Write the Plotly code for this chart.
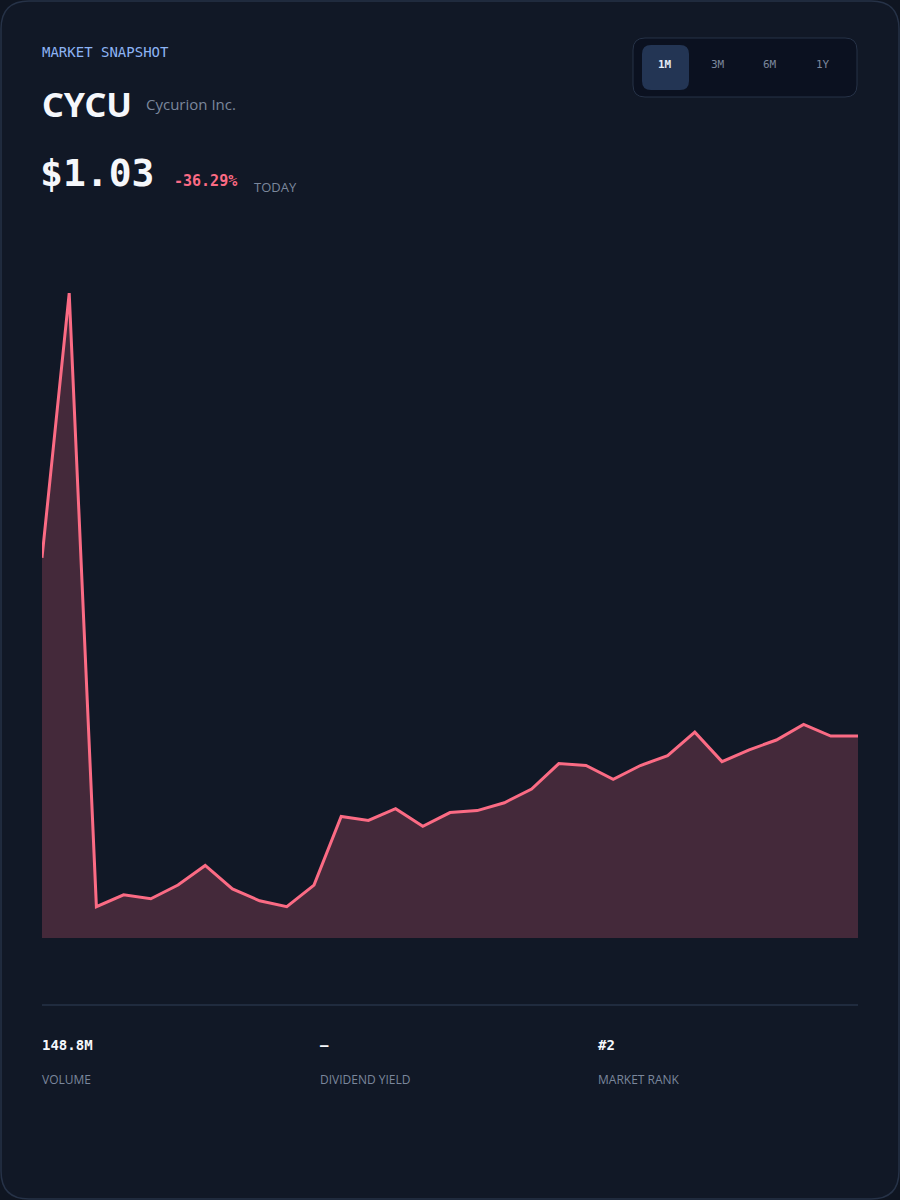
import plotly.graph_objects as go

days = list(range(1, 32))
prices = [1.94, 3.29, 0.16, 0.22, 0.20, 0.27, 0.37, 0.25, 0.19, 0.16, 0.27, 0.62, 0.60, 0.66,
          0.57, 0.64, 0.65, 0.69, 0.76, 0.89, 0.88, 0.81, 0.88, 0.93, 1.05, 0.90, 0.96, 1.01,
          1.09, 1.03, 1.03]
ranges = ["1M", "3M", "6M", "1Y"]
stats_values = ["148.8M", "–", "#2"]
stats_labels = ["VOLUME", "DIVIDEND YIELD", "MARKET RANK"]

MONO = "DejaVu Sans Mono"
SANS = "Open Sans"
W, H = 900, 1200
L, R, T, B = 42, 42, 230, 262
PW, PH = W - L - R, H - T - B

def X(v):
    return (v - L) / PW

def Y(v):
    return (H - B - v) / PH

fig = go.Figure(go.Scatter(
    x=days, y=prices, mode="lines", fill="tozeroy",
    line=dict(color="#fb6b84", width=3), fillcolor="rgba(251,107,132,0.22)",
    hoverinfo="skip"))

def rr(x0, y0, x1, y1, r):
    return (f"M{X(x0+r)},{Y(y0)} L{X(x1-r)},{Y(y0)} Q{X(x1)},{Y(y0)} {X(x1)},{Y(y0+r)} "
            f"L{X(x1)},{Y(y1-r)} Q{X(x1)},{Y(y1)} {X(x1-r)},{Y(y1)} L{X(x0+r)},{Y(y1)} "
            f"Q{X(x0)},{Y(y1)} {X(x0)},{Y(y1-r)} L{X(x0)},{Y(y0+r)} Q{X(x0)},{Y(y0)} {X(x0+r)},{Y(y0)} Z")

shapes = [
    dict(type="path", xref="paper", yref="paper", path=rr(1, 1, 899, 1199, 28),
         line=dict(color="#263247", width=1.5), fillcolor="#111826", layer="below"),
    dict(type="path", xref="paper", yref="paper", path=rr(633, 38, 857, 97, 12),
         line=dict(color="#263247", width=1), fillcolor="#0b1120", layer="below"),
    dict(type="path", xref="paper", yref="paper", path=rr(642, 45, 689, 90, 9),
         line=dict(width=0), fillcolor="#233554", layer="below"),
    dict(type="line", xref="paper", yref="paper", x0=X(42), x1=X(858), y0=Y(1005), y1=Y(1005),
         line=dict(color="#263247", width=1.5)),
]

ann = []
def t(x, y, text, size, color, family, bold=False, anchor="left"):
    ann.append(dict(xref="paper", yref="paper", x=X(x), y=Y(y), text=f"<b>{text}</b>" if bold else text,
                    showarrow=False, xanchor=anchor, yanchor="middle",
                    font=dict(size=size, color=color, family=family)))

t(40, 52, "MARKET SNAPSHOT", 14, "#8db4f5", MONO)
t(40, 104, "CYCU", 34, "#f5f7fb", "Noto Sans", bold=True)
t(144, 104, "Cycurion Inc.", 15, "#7b879c", SANS)
t(38, 173, "$1.03", 38, "#f5f7fb", MONO, bold=True)
t(172, 181, "-36.29%", 15, "#fb6b84", MONO, bold=True)
t(252, 187, "TODAY", 13, "#7b879c", SANS)
for i, r in enumerate(ranges):
    t(665 + i*52.5, 64, r, 11, "#e4ebf7" if i == 0 else "#7b879c", MONO, bold=(i == 0), anchor="center")
for i, (v, l) in enumerate(zip(stats_values, stats_labels)):
    x = 40 + i*278
    t(x, 1045, v, 14, "#f5f7fb", MONO, bold=True)
    t(x, 1079, l, 12, "#7b879c", SANS)

fig.update_layout(
    width=W, height=H, paper_bgcolor="#0f1521", plot_bgcolor="rgba(0,0,0,0)",
    margin=dict(l=L, r=R, t=T, b=B), showlegend=False,
    xaxis=dict(range=[1, 31], visible=False, fixedrange=True),
    yaxis=dict(range=[0, 3.612], visible=False, fixedrange=True),
    shapes=shapes, annotations=ann,
)
fig.write_html("out.html", config={"displayModeBar": False},
               post_script="document.body.style.margin='0';document.body.style.background='#0f1521';")
